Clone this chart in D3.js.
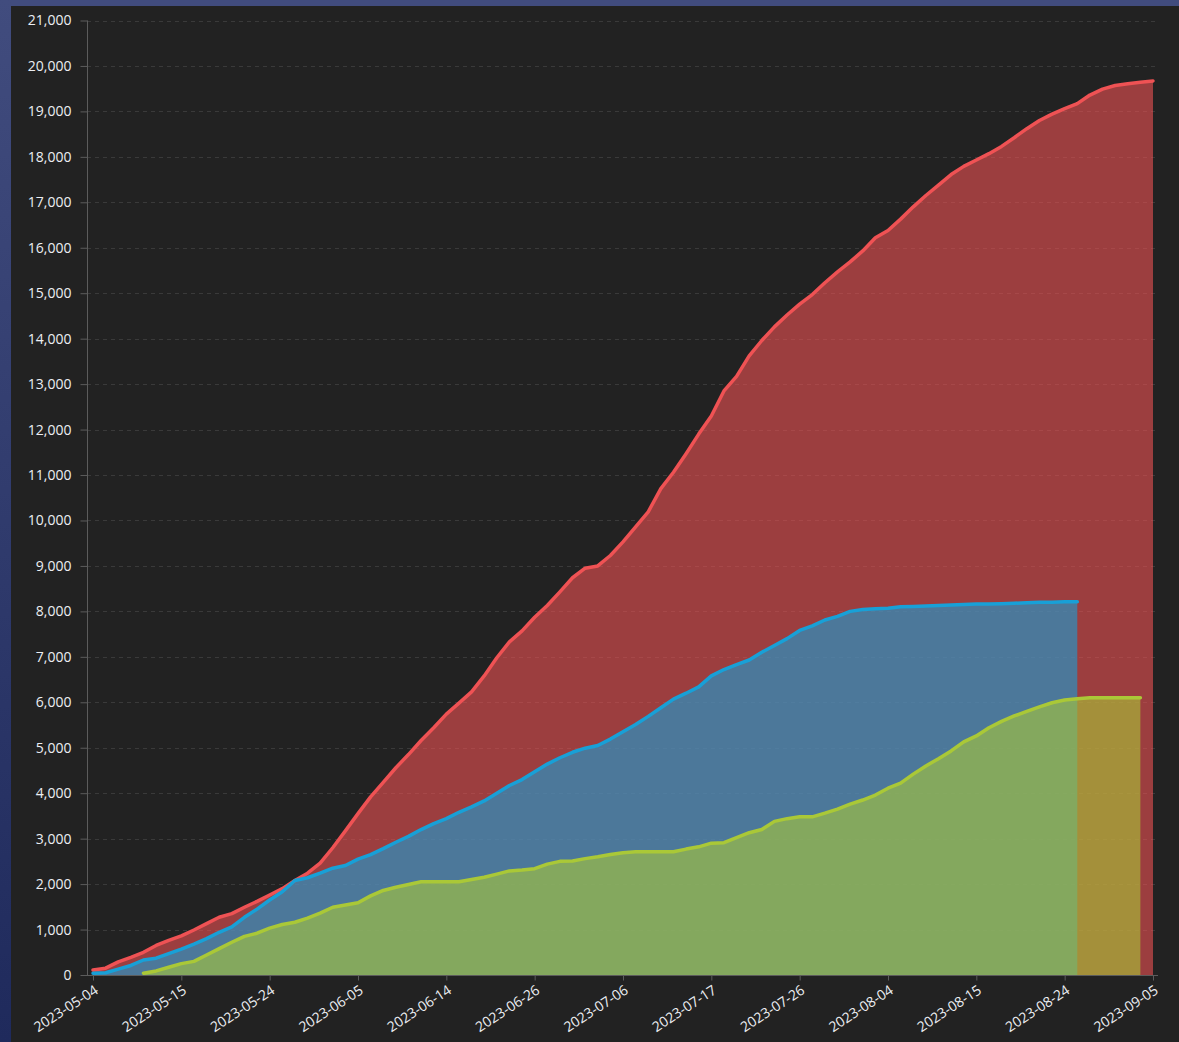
<!DOCTYPE html>
<html>
<head>
<meta charset="utf-8">
<script src="https://cdn.jsdelivr.net/npm/d3@7"></script>
<style>
	html, body { margin: 0; padding: 0; background: #222222; }
	svg { display: block; }
	.axis text { fill: #eceef2; font-family: "Open Sans", "Noto Sans", sans-serif; font-size: 14px; }
	.axis line, .axis path { stroke: #5c5c5c; }
</style>
</head>
<body>
<svg id="chart" width="1179" height="1042"></svg>
<script>

// x axis shows every 7th category
var tickEvery = 7;
var tickLabels = ['2023-05-04', '2023-05-15', '2023-05-24', '2023-06-05', '2023-06-14', '2023-06-26',
	'2023-07-06', '2023-07-17', '2023-07-26', '2023-08-04', '2023-08-15', '2023-08-24', '2023-09-05'];

var redValues = [
	110, 150, 290, 390, 500, 650, 760, 860, 990, 1130,
	1270, 1350, 1490, 1620, 1760, 1900, 2080, 2240, 2460, 2800,
	3170, 3550, 3920, 4240, 4560, 4850, 5160, 5440, 5740, 5980,
	6230, 6580, 6980, 7330, 7570, 7870, 8130, 8430, 8740, 8950,
	9000, 9230, 9530, 9860, 10190, 10700, 11060, 11470, 11900, 12300,
	12850, 13170, 13620, 13960, 14260, 14520, 14760, 14970, 15230, 15470,
	15690, 15930, 16220, 16380, 16630, 16900, 17150, 17380, 17610, 17790,
	17930, 18070, 18230, 18420, 18620, 18800, 18940, 19060, 19170, 19360,
	19490, 19570, 19610, 19640, 19670
];

var blueValues = [
	40, 50, 130, 210, 330, 370, 470, 570, 680, 800,
	940, 1060, 1270, 1450, 1650, 1830, 2080, 2140, 2240, 2350,
	2410, 2550, 2650, 2780, 2920, 3050, 3200, 3330, 3440, 3580,
	3700, 3830, 4000, 4170, 4300, 4470, 4640, 4780, 4900, 4990,
	5050, 5190, 5350, 5510, 5690, 5880, 6070, 6200, 6340, 6580,
	6720, 6830, 6930, 7100, 7250, 7400, 7580, 7680, 7810, 7890,
	8000, 8040, 8060, 8070, 8100, 8110, 8120, 8130, 8140, 8150,
	8160, 8160, 8170, 8180, 8190, 8200, 8200, 8210, 8210
];

var greenValues = [
	null, null, null, null, 40, 90, 170, 250, 300, 440,
	580, 720, 850, 920, 1030, 1110, 1160, 1250, 1360, 1490,
	1540, 1590, 1740, 1860, 1930, 1990, 2050, 2050, 2050, 2050,
	2100, 2150, 2220, 2290, 2310, 2340, 2440, 2500, 2510, 2560,
	2600, 2650, 2690, 2710, 2710, 2710, 2710, 2770, 2820, 2900,
	2910, 3020, 3130, 3200, 3380, 3440, 3480, 3480, 3560, 3650,
	3760, 3850, 3960, 4110, 4220, 4420, 4600, 4760, 4930, 5130,
	5260, 5440, 5580, 5700, 5800, 5900, 5990, 6050, 6080, 6100,
	6100, 6100, 6100, 6100
];

var yTicks = [0, 1000, 2000, 3000, 4000, 5000, 6000, 7000, 8000, 9000, 10000,
	11000, 12000, 13000, 14000, 15000, 16000, 17000, 18000, 19000, 20000, 21000];

var series = [
	{ name: 'red', values: redValues, line: '#ef5254', area: 'rgba(239,82,84,0.6)' },
	{ name: 'blue', values: blueValues, line: '#18a0d7', area: 'rgba(24,160,215,0.6)' },
	{ name: 'green', values: greenValues, line: '#aac837', area: 'rgba(170,200,55,0.6)' }
];

var WIDTH = 1179, HEIGHT = 1042;
var axisLeftX = 87, axisRightX = 1158, plotTop = 20.5, plotBottom = 975;

var svg = d3.select('#chart');

// window frame
var defs = svg.append('defs');
var grad = defs.append('linearGradient')
	.attr('id', 'frameGrad')
	.attr('x1', 0).attr('y1', 0).attr('x2', 0).attr('y2', 1);
grad.append('stop').attr('offset', 0).attr('stop-color', '#414c7e');
grad.append('stop').attr('offset', 1).attr('stop-color', '#1f2a5c');

svg.append('rect')
	.attr('width', WIDTH)
	.attr('height', HEIGHT)
	.attr('fill', '#222222');
svg.append('rect')
	.attr('width', WIDTH)
	.attr('height', 6)
	.attr('fill', '#414c7e');
svg.append('rect')
	.attr('y', 0)
	.attr('width', 11)
	.attr('height', HEIGHT)
	.attr('fill', 'url(#frameGrad)');

var n = redValues.length;

var x = d3.scaleLinear()
	.domain([0, n - 1])
	.range([93, 1153]);

var y = d3.scaleLinear()
	.domain([0, 21000])
	.range([plotBottom, plotTop]);

// grid
svg.append('g')
	.attr('class', 'grid')
	.selectAll('line')
	.data(yTicks.filter(function (d) { return d > 0; }))
	.enter()
	.append('line')
	.attr('x1', axisLeftX)
	.attr('x2', axisRightX)
	.attr('y1', function (d) { return Math.round(y(d)) + 0.5; })
	.attr('y2', function (d) { return Math.round(y(d)) + 0.5; })
	.attr('stroke', '#3a3a3a')
	.attr('stroke-dasharray', '4,4');

var area = d3.area()
	.defined(function (d) { return d != null; })
	.x(function (d, i) { return x(i); })
	.y0(y(0))
	.y1(function (d) { return y(d); });

var line = d3.line()
	.defined(function (d) { return d != null; })
	.x(function (d, i) { return x(i); })
	.y(function (d) { return y(d); });

series.forEach(function (s) {
	svg.append('path')
		.datum(s.values)
		.attr('fill', s.area)
		.attr('d', area);
});

series.forEach(function (s) {
	svg.append('path')
		.datum(s.values)
		.attr('fill', 'none')
		.attr('stroke', s.line)
		.attr('stroke-width', 3.5)
		.attr('stroke-linejoin', 'round')
		.attr('stroke-linecap', 'round')
		.attr('d', line);
});

// y axis
var yAxis = svg.append('g')
	.attr('class', 'axis')
	.attr('transform', 'translate(' + (axisLeftX + 0.5) + ',0)')
	.call(d3.axisLeft(y)
		.tickValues(yTicks)
		.tickFormat(d3.format(','))
		.tickSize(7)
		.tickSizeOuter(0)
		.tickPadding(9));
yAxis.select('.domain').remove();
yAxis.append('line')
	.attr('y1', plotTop)
	.attr('y2', plotBottom)
	.attr('stroke', '#5c5c5c');

// x axis
var xTickValues = tickLabels.map(function (d, i) { return i * tickEvery; });

var xAxis = svg.append('g')
	.attr('class', 'axis')
	.attr('transform', 'translate(0,' + (plotBottom + 0.5) + ')')
	.call(d3.axisBottom(x)
		.tickValues(xTickValues)
		.tickFormat(function (d) { return tickLabels[d / tickEvery]; })
		.tickSize(5)
		.tickSizeOuter(0));
xAxis.select('.domain').remove();
xAxis.append('line')
	.attr('x1', axisLeftX)
	.attr('x2', axisRightX)
	.attr('stroke', '#5c5c5c');
xAxis.selectAll('.tick text')
	.attr('x', 0)
	.attr('y', 0)
	.attr('dy', '0.35em')
	.attr('text-anchor', 'end')
	.attr('transform', 'translate(3,13) rotate(-33)');

</script>
</body>
</html>
